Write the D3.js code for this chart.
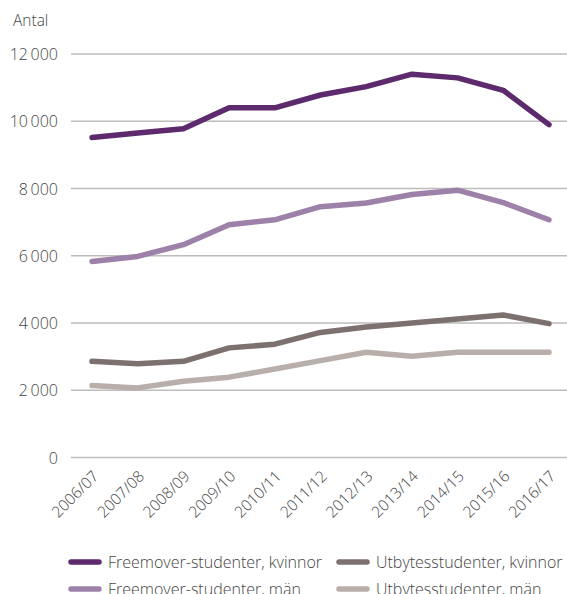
<html lang="sv">
<head>
  <meta charset="UTF-8">
  <title>Antal studenter</title>
  <script src="https://d3js.org/d3.v7.min.js"></script>
  <style>
    body { margin: 0; background: #fff; }
    .chart text { font-family: "Open Sans", sans-serif; font-weight: 300; fill: #444; }
  </style>
</head>
<body>
  <svg class="chart" width="567" height="594"></svg>
  <script>
    const years = ["2006/07", "2007/08", "2008/09", "2009/10", "2010/11", "2011/12",
      "2012/13", "2013/14", "2014/15", "2015/16", "2016/17"];
    const freeKvinnor = [9520, 9650, 9780, 10400, 10400, 10780, 11030, 11400, 11290, 10920, 9900];
    const freeMan = [5830, 5980, 6330, 6920, 7070, 7460, 7570, 7820, 7950, 7580, 7070];
    const utbKvinnor = [2860, 2790, 2860, 3260, 3370, 3720, 3880, 4000, 4120, 4240, 3980];
    const utbMan = [2140, 2070, 2270, 2390, 2630, 2880, 3130, 3010, 3130, 3130, 3130];
    const yTicks = [0, 2000, 4000, 6000, 8000, 10000, 12000];

    const series = [
      { name: "Freemover-studenter, kvinnor", values: freeKvinnor, color: "#5c2a6d" },
      { name: "Utbytesstudenter, kvinnor", values: utbKvinnor, color: "#7d716f" },
      { name: "Freemover-studenter, män", values: freeMan, color: "#9e81a8" },
      { name: "Utbytesstudenter, män", values: utbMan, color: "#b8aeaa" }
    ];

    const svg = d3.select("svg.chart");
    const x = d3.scalePoint().domain(years).range([92, 549]);
    const y = d3.scaleLinear().domain([0, 12000]).range([457.5, 54]);
    const fmt = d => d3.format(",")(d).replace(",", "\u2009");

    // grid
    svg.append("g").selectAll("line").data(yTicks).join("line")
      .attr("x1", 71).attr("x2", 567)
      .attr("y1", d => y(d)).attr("y2", d => y(d))
      .attr("stroke", "#bdbdbd").attr("stroke-width", 1.4);

    svg.append("g").selectAll("text").data(yTicks).join("text")
      .attr("x", 58).attr("y", d => y(d) + 6)
      .attr("text-anchor", "end").attr("font-size", 16)
      .text(fmt);

    svg.append("text").attr("x", 13).attr("y", 26).attr("font-size", 15.5).text("Antal");

    svg.append("g").selectAll("text").data(years).join("text")
      .attr("text-anchor", "middle").attr("dy", "0.35em").attr("font-size", 15.5)
      .attr("transform", d => `translate(${x(d) - 17},${494}) rotate(-45)`)
      .text(d => d);

    const line = d3.line().x((d, i) => x(years[i])).y(d => y(d));
    const order = [series[3], series[1], series[2], series[0]];
    svg.append("g").selectAll("path").data(order).join("path")
      .attr("d", d => line(d.values))
      .attr("fill", "none").attr("stroke", d => d.color)
      .attr("stroke-width", 5.5).attr("stroke-linecap", "round").attr("stroke-linejoin", "round");

    // legend
    const legend = svg.append("g").selectAll("g").data(series).join("g")
      .attr("transform", (d, i) => `translate(${i % 2 ? 339 : 71},${i < 2 ? 562 : 589})`);
    legend.append("line").attr("x1", 0).attr("x2", 28)
      .attr("stroke", d => d.color).attr("stroke-width", 5.5).attr("stroke-linecap", "round");
    legend.append("text").attr("x", 37).attr("y", 6).attr("font-size", 16).text(d => d.name);
  </script>
</body>
</html>
